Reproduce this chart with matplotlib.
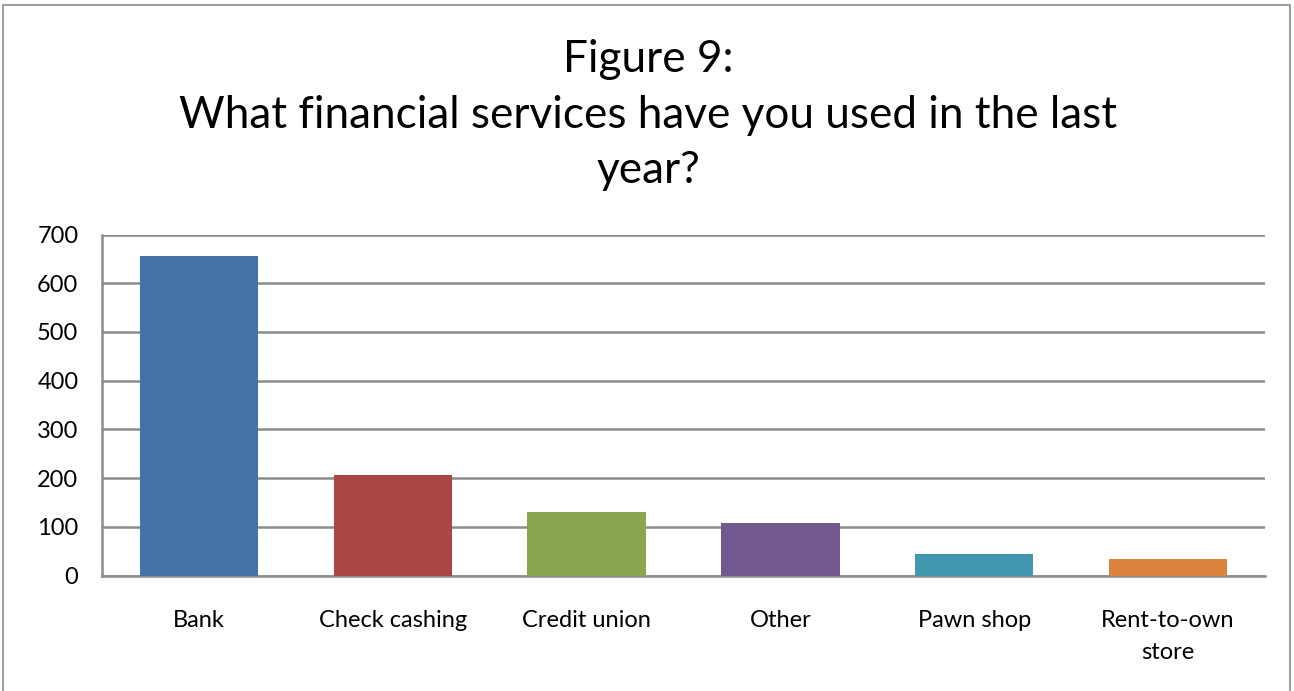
import matplotlib
matplotlib.use("Agg")
import matplotlib.pyplot as plt
from matplotlib.patches import Rectangle

categories = ["Bank", "Check cashing", "Credit union", "Other", "Pawn shop", "Rent-to-own\nstore"]
counts = [655, 206, 130, 108, 45, 34]
colors = ["#4572A7", "#AA4643", "#89A54E", "#71588F", "#4198AF", "#DB843D"]
yticks = [0, 100, 200, 300, 400, 500, 600, 700]
title = "Figure 9:\nWhat financial services have you used in the last\nyear?"

plt.rcParams["font.family"] = ["Lato", "DejaVu Sans"]

W, H = 1294, 691
fig = plt.figure(figsize=(W / 100, H / 100), dpi=100)

# chart frame
fig.patches.append(Rectangle((3 / W, -0.05), (1290 - 3) / W, 1.05 - 5 / H,
                             transform=fig.transFigure, fill=False,
                             edgecolor="#8c8c8c", linewidth=1.2))

ax = fig.add_axes([102 / W, 1 - 575.5 / H, (1265 - 102) / W, (575.5 - 234.5) / H])
x = range(len(categories))
ax.bar(x, counts, width=0.61, color=colors, zorder=3)

ax.set_xlim(-0.5, len(categories) - 0.5)
ax.set_ylim(0, 700)
ax.set_yticks(yticks)
ax.set_yticklabels([str(v) for v in yticks], fontsize=17)
ax.set_xticks(list(x))
ax.set_xticklabels(categories, fontsize=17, linespacing=1.62)
ax.yaxis.grid(True, color="#8c8c8c", linewidth=1.8, zorder=0)
ax.tick_params(axis="y", length=0, pad=17)
ax.tick_params(axis="x", length=0, pad=25)
for s in ["top", "right"]:
    ax.spines[s].set_visible(False)
ax.spines["left"].set_color("#8c8c8c")
ax.spines["left"].set_linewidth(1.8)
ax.spines["bottom"].set_color("#8c8c8c")
ax.spines["bottom"].set_linewidth(1.8)

fig.text(648 / W, 1 - 115 / H, title, ha="center", va="center",
         fontsize=31.8, linespacing=1.45)

fig.savefig("out.png", dpi=100, facecolor="white")
